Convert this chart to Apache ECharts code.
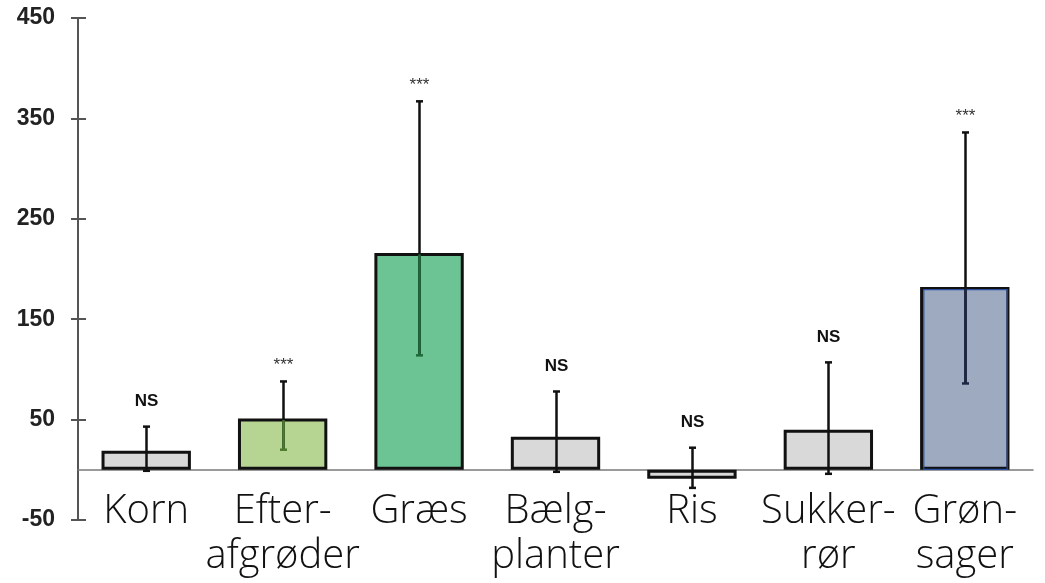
<!DOCTYPE html>
<html>
<head>
<meta charset="utf-8">
<title>Afgrøder</title>
<script src="https://cdn.jsdelivr.net/npm/echarts@6/dist/echarts.min.js"></script>
<style>
  html, body { margin: 0; padding: 0; background: #ffffff; }
  #chart { width: 1045px; height: 583px; }
</style>
</head>
<body>
<div id="chart"></div>
<script>
// Crop categories (two-line labels break at the hyphen)
const categories = ['Korn', 'Efter-\nafgrøder', 'Græs', 'Bælg-\nplanter', 'Ris', 'Sukker-\nrør', 'Grøn-\nsager'];
// Mean effect per crop
const means = [19, 51, 216, 33, -9, 40, 182];
// Lower and upper ends of the confidence interval
const lowerCI = [-1, 20, 114, -2, -18, -4, 86];
const upperCI = [43, 88, 367, 78, 22, 107, 336];
// Significance marks above each interval
const significance = ['NS', '***', '***', 'NS', 'NS', 'NS', '***'];
// Y-axis range and step
const yMin = -50;
const yMax = 450;
const yStep = 100;

// Styling
const barFill = ['#d9d9d9', '#b6d593', '#6cc494', '#d9d9d9', '#d9d9d9', '#d9d9d9', '#9eaac0'];
const whiskerInside = [null, '#4d7a2c', '#1d6a3a', null, null, null, '#1b2745'];
const innerOutline = [null, null, null, null, null, null, '#2b4f9e'];
const BAR_RATIO = 0.655;

const chart = echarts.init(document.getElementById('chart'), null, { renderer: 'canvas' });

function renderWhisker(params, api) {
  const i = api.value(0);
  const lo = api.coord([i, api.value(1)]);
  const hi = api.coord([i, api.value(2)]);
  const top = api.coord([i, api.value(3)]);
  const zero = api.coord([i, 0]);
  const x = Math.round(hi[0]) + 0.5;
  const capHalf = 3.5;
  const w = 2.5;
  const black = '#111111';
  const kids = [];

  // optional inner outline of the bar
  if (innerOutline[i]) {
    const bw = api.size([1, 0])[0] * BAR_RATIO;
    const yTop = Math.min(top[1], zero[1]);
    const yBot = Math.max(top[1], zero[1]);
    kids.push({
      type: 'rect',
      shape: { x: x - bw / 2 + 3, y: yTop + 2.5, width: bw - 6, height: yBot - yTop - 3 },
      style: { fill: null, stroke: innerOutline[i], lineWidth: 1.2 }
    });
  }

  kids.push({ type: 'line', shape: { x1: x, y1: hi[1], x2: x, y2: lo[1] }, style: { stroke: black, lineWidth: w } });
  kids.push({ type: 'line', shape: { x1: x - capHalf, y1: hi[1], x2: x + capHalf, y2: hi[1] }, style: { stroke: black, lineWidth: w } });

  let lowCapColor = black;
  if (whiskerInside[i]) {
    // portion of the whisker that sits inside the tinted bar
    const segTop = top[1];
    const segBot = Math.min(lo[1], zero[1]);
    if (segBot > segTop) {
      kids.push({ type: 'line', shape: { x1: x, y1: segTop + 1.5, x2: x, y2: segBot }, style: { stroke: whiskerInside[i], lineWidth: w } });
    }
    lowCapColor = whiskerInside[i];
  }
  kids.push({ type: 'line', shape: { x1: x - capHalf, y1: lo[1], x2: x + capHalf, y2: lo[1] }, style: { stroke: lowCapColor, lineWidth: w } });

  const mark = significance[i];
  const isStars = mark.indexOf('*') >= 0;
  kids.push({
    type: 'text',
    x: x,
    y: hi[1] - (isStars ? 8 : 17),
    style: {
      text: mark,
      fill: isStars ? '#333333' : '#111111',
      font: isStars ? 'normal 17px "Liberation Sans", Arial, sans-serif' : 'bold 17px "Liberation Sans", Arial, sans-serif',
      align: 'center',
      verticalAlign: 'bottom'
    }
  });

  return { type: 'group', children: kids };
}

const whiskerData = categories.map((c, i) => [i, lowerCI[i], upperCI[i], means[i]]);

const tickStyle = { color: '#555555', width: 2 };

const option = {
  animation: false,
  backgroundColor: '#ffffff',
  grid: { left: 78, right: 12, top: 18, bottom: 63, containLabel: false, outerBoundsMode: 'none' },
  xAxis: {
    type: 'category',
    data: categories,
    axisLine: { onZero: true, lineStyle: { color: '#7a7a7a', width: 1.5 } },
    axisTick: { show: false },
    axisLabel: {
      interval: 0,
      margin: -31,
      color: '#111111',
      fontFamily: '"Open Sans", Lato, sans-serif',
      fontWeight: 300,
      fontSize: 40,
      lineHeight: 45
    },
    splitLine: { show: false }
  },
  yAxis: [
    {
      type: 'value',
      position: 'left',
      min: yMin,
      max: yMax,
      interval: yStep,
      axisLine: { show: true, onZero: false, lineStyle: { color: '#555555', width: 2 } },
      axisTick: { show: false },
      axisLabel: {
        margin: 23,
        color: '#222222',
        fontFamily: '"Liberation Sans", Arial, sans-serif',
        fontWeight: 'bold',
        fontSize: 23
      },
      splitLine: { show: false }
    },
    {
      // tick marks that straddle the axis line
      type: 'value',
      position: 'left',
      offset: -8,
      min: yMin,
      max: yMax,
      interval: yStep,
      axisLine: { show: false, onZero: false },
      axisTick: { show: true, inside: false, length: 15, lineStyle: tickStyle },
      axisLabel: { show: false },
      splitLine: { show: false }
    }
  ],
  series: [
    {
      type: 'bar',
      yAxisIndex: 0,
      barWidth: (BAR_RATIO * 100) + '%',
      data: means.map((v, i) => ({
        value: v,
        itemStyle: { color: barFill[i], borderColor: '#111111', borderWidth: 3 }
      })),
      z: 2
    },
    {
      type: 'custom',
      yAxisIndex: 0,
      renderItem: renderWhisker,
      data: whiskerData,
      encode: { x: 0, y: [1, 2] },
      z: 3
    }
  ]
};

chart.setOption(option);
</script>
</body>
</html>
